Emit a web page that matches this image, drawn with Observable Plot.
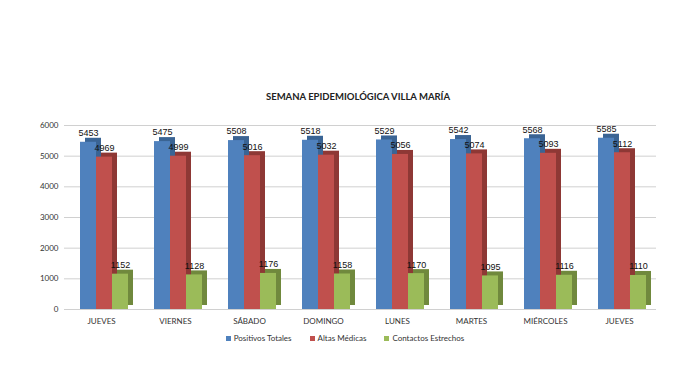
<!DOCTYPE html>
<html><head><meta charset="utf-8">
<script src="https://cdn.jsdelivr.net/npm/d3@7"></script>
<script src="https://cdn.jsdelivr.net/npm/@observablehq/plot@0.6"></script>
<style>
body{margin:0;background:#fff;width:685px;height:385px;position:relative;overflow:hidden;font-family:Lato,"Open Sans",sans-serif;}
#title{position:absolute;top:91px;left:0;width:716px;text-align:center;font-weight:bold;font-size:9.5px;color:#222;}
#chart{position:absolute;top:110px;left:0;}
#legend{position:absolute;top:333px;left:0;width:690px;text-align:center;font-size:8px;color:#333;}
#legend span{margin:0 9px;}
#legend i{display:inline-block;width:5px;height:5px;margin-right:3px;vertical-align:middle;}
</style></head><body>
<div id="title">SEMANA EPIDEMIOLÓGICA VILLA MARÍA</div>
<div id="chart"></div>
<div id="legend"></div>
<script>
const days = ["JUEVES","VIERNES","SÁBADO","DOMINGO","LUNES","MARTES","MIÉRCOLES","JUEVES"];
const series = ["Positivos Totales","Altas Médicas","Contactos Estrechos"];
const positivos = [5453,5475,5508,5518,5529,5542,5568,5585];
const altas = [4969,4999,5016,5032,5056,5074,5093,5112];
const contactos = [1152,1128,1176,1158,1170,1095,1116,1110];
const yTicks = [0,1000,2000,3000,4000,5000,6000];
const colors = ["#4F81BD","#C0504D","#9BBB59"];
const sideColors = ["#3A6494","#8E3835","#70893D"];

const values = [positivos, altas, contactos];
const rows = [];
days.forEach((d,i)=>series.forEach((s,j)=>rows.push({day:i, series:s, side:s+" side", value:values[j][i]})));

const shift = 3;
const chart = Plot.plot({
  width:685, height:222,
  marginLeft:64, marginRight:29, marginTop:15, marginBottom:23,
  style:{fontFamily:"Lato, 'Open Sans', sans-serif", fontSize:"8px", color:"#333", background:"transparent"},
  fx:{domain:d3.range(days.length), tickFormat:i=>days[i], padding:0, label:null, tickSize:0, tickPadding:9},
  x:{domain:series, axis:null, paddingInner:0, paddingOuter:0.75},
  y:{domain:[0,6000], ticks:yTicks, tickFormat:d=>String(d), tickSize:0, tickPadding:6, label:null},
  color:{domain:[...series, ...series.map(s=>s+" side")], range:[...colors, ...sideColors]},
  marks:[
    Plot.ruleY(yTicks,{stroke:"#d0d0d0", strokeWidth:1}),
    Plot.barY(rows,{fx:"day", x:"series", y:"value", fill:"side", dx:shift+5, dy:-4, inset:0}),
    Plot.barY(rows,{fx:"day", x:"series", y:"value", fill:"series", dx:shift, inset:0}),
    Plot.text(rows,{fx:"day", x:"series", y:"value", text:d=>String(d.value), dx:shift, dy:-9, fontSize:9, fill:"#111", fontFamily:"'Liberation Sans', Arial, sans-serif"})
  ]
});
document.getElementById("chart").appendChild(chart);

const legend = document.getElementById("legend");
series.forEach((s,j)=>{
  const sp=document.createElement("span");
  const ic=document.createElement("i"); ic.style.background=colors[j];
  sp.appendChild(ic); sp.appendChild(document.createTextNode(s));
  legend.appendChild(sp);
});
</script>
</body></html>
